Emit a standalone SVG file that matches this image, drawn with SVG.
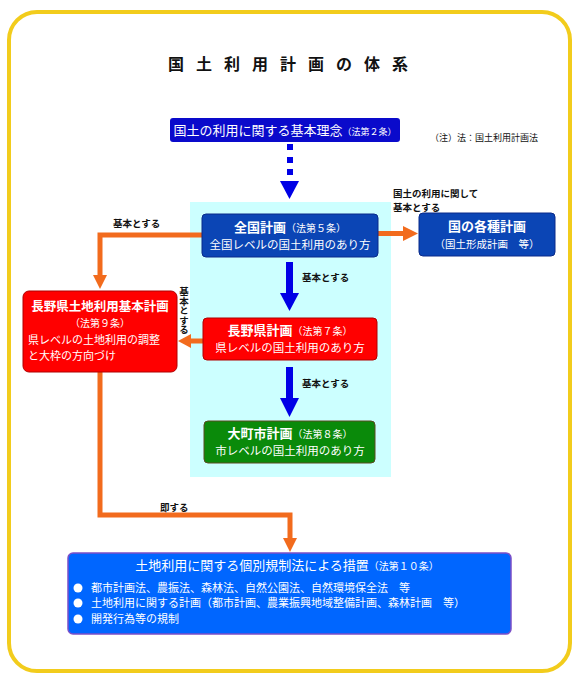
<svg xmlns="http://www.w3.org/2000/svg" width="577" height="676" viewBox="0 0 577 676">
<style>
text{font-family:"Noto Sans CJK JP","Noto Sans",sans-serif;}
.w{fill:#fff;}
.hd{font-size:13px;font-weight:bold;}
.pr{font-size:10px;}
.sub{font-size:11.5px;}
.lbl{font-size:9.5px;font-weight:bold;fill:#111;}
.dblue{fill:#0B45B5;stroke:#0A2A8A;stroke-width:1;}
.red{fill:#FF0000;stroke:#B00000;stroke-width:1;}
.org{fill:none;stroke:#F26B1D;stroke-width:5;}
.orgh{fill:#F26B1D;}
.blu{fill:#0000E6;}
</style>
<rect x="9" y="12" width="561" height="659" rx="28" fill="#fff" stroke="#F2CC1C" stroke-width="4"/>
<text x="168" y="70" font-size="16" font-weight="bold" letter-spacing="12" fill="#111">国土利用計画の体系</text>
<text x="430" y="141" font-size="9" fill="#111">（注）法：国土利用計画法</text>
<rect x="190" y="202" width="201" height="275" fill="#CCFFFF"/>

<g id="connectors">
<g id="c-dash">
<rect x="287" y="144" width="6" height="6" class="blu"/>
<rect x="287" y="157" width="6" height="6" class="blu"/>
<rect x="287" y="169" width="6" height="6" class="blu"/>
<polygon points="280,181 299,181 289.5,199" class="blu"/>
</g>
<g id="c-right">
<line x1="378" y1="233.5" x2="405" y2="233.5" class="org"/>
<polygon points="403,226 418,233.5 403,241" class="orgh"/>
</g>
<g id="c-left">
<polyline points="202,235 100,235 100,277" class="org"/>
<polygon points="93,275 107,275 100,289" class="orgh"/>
</g>
<g id="c-b1">
<rect x="286" y="262" width="7" height="32" class="blu"/>
<polygon points="280,293 299,293 289.5,311" class="blu"/>
</g>
<g id="c-b2">
<rect x="286" y="367" width="7" height="32" class="blu"/>
<polygon points="280,398 299,398 289.5,417" class="blu"/>
</g>
<g id="c-pref">
<line x1="203" y1="341" x2="189" y2="341" class="org"/>
<polygon points="191,334 178,341 191,348" class="orgh"/>
</g>
<g id="c-bottom">
<polyline points="100,372 100,515 290,515 290,540" class="org"/>
<polygon points="283,538 297,538 290,552" class="orgh"/>
</g>
<text x="393" y="197" class="lbl">国土の利用に関して</text>
<text x="393" y="211" class="lbl">基本とする</text>
<text x="113" y="227" class="lbl">基本とする</text>
<text x="184" y="287" class="lbl" style="writing-mode:vertical-rl">基本とする</text>
<text x="302" y="281" class="lbl">基本とする</text>
<text x="302" y="387" class="lbl">基本とする</text>
<text x="160" y="511" class="lbl">即する</text>
</g>

<g id="n-rinen">
<rect x="170" y="118" width="230" height="24" rx="3" fill="#0A0ACB"/>
<text x="285" y="135" text-anchor="middle" class="w"><tspan font-size="13">国土の利用に関する基本理念</tspan><tspan font-size="9">（法第２条）</tspan></text>
</g>

<g id="n-zenkoku">
<rect x="202" y="214" width="176" height="43" rx="4" class="dblue"/>
<text x="290" y="232" text-anchor="middle" class="w"><tspan class="hd">全国計画</tspan><tspan class="pr">（法第５条）</tspan></text>
<text x="290" y="249" text-anchor="middle" class="w sub">全国レベルの国土利用のあり方</text>
</g>

<g id="n-kuni">
<rect x="419" y="213" width="136" height="43" rx="4" class="dblue"/>
<text x="487" y="231" text-anchor="middle" class="w" font-size="13" font-weight="bold">国の各種計画</text>
<text x="487" y="248" text-anchor="middle" class="w" font-size="10.5">（国土形成計画　等）</text>
</g>

<g id="n-tochi">
<rect x="23" y="291" width="154" height="81" rx="6" class="red"/>
<text x="100" y="311" text-anchor="middle" class="w" font-size="12.5" font-weight="bold">長野県土地利用基本計画</text>
<text x="100" y="327" text-anchor="middle" class="w pr">（法第９条）</text>
<text x="28" y="344" class="w" font-size="11">県レベルの土地利用の調整</text>
<text x="28" y="360" class="w" font-size="11">と大枠の方向づけ</text>
</g>

<g id="n-ken">
<rect x="203" y="318" width="174" height="42" rx="4" class="red"/>
<text x="290" y="335" text-anchor="middle" class="w"><tspan class="hd">長野県計画</tspan><tspan class="pr">（法第７条）</tspan></text>
<text x="290" y="352" text-anchor="middle" class="w sub">県レベルの国土利用のあり方</text>
</g>

<g id="n-shi">
<rect x="204" y="421" width="171" height="42" rx="4" fill="#0A8A0A" stroke="#5A4A20" stroke-width="1"/>
<text x="290" y="438" text-anchor="middle" class="w"><tspan class="hd">大町市計画</tspan><tspan class="pr">（法第８条）</tspan></text>
<text x="290" y="455" text-anchor="middle" class="w sub">市レベルの国土利用のあり方</text>
</g>

<g id="n-kisei">
<rect x="68" y="553" width="443" height="81" rx="5" fill="#0066FF" stroke="#7B4FC8" stroke-width="1.5"/>
<text x="287" y="570" text-anchor="middle" class="w"><tspan font-size="13">土地利用に関する個別規制法による措置</tspan><tspan font-size="10">（法第１０条）</tspan></text>
<circle cx="78" cy="588" r="4.5" fill="#fff"/>
<circle cx="78" cy="603" r="4.5" fill="#fff"/>
<circle cx="78" cy="619" r="4.5" fill="#fff"/>
<text x="91" y="592" class="w" font-size="11">都市計画法、農振法、森林法、自然公園法、自然環境保全法　等</text>
<text x="91" y="607" class="w" font-size="11">土地利用に関する計画（都市計画、農業振興地域整備計画、森林計画　等）</text>
<text x="91" y="623" class="w" font-size="11">開発行為等の規制</text>
</g>
</svg>
